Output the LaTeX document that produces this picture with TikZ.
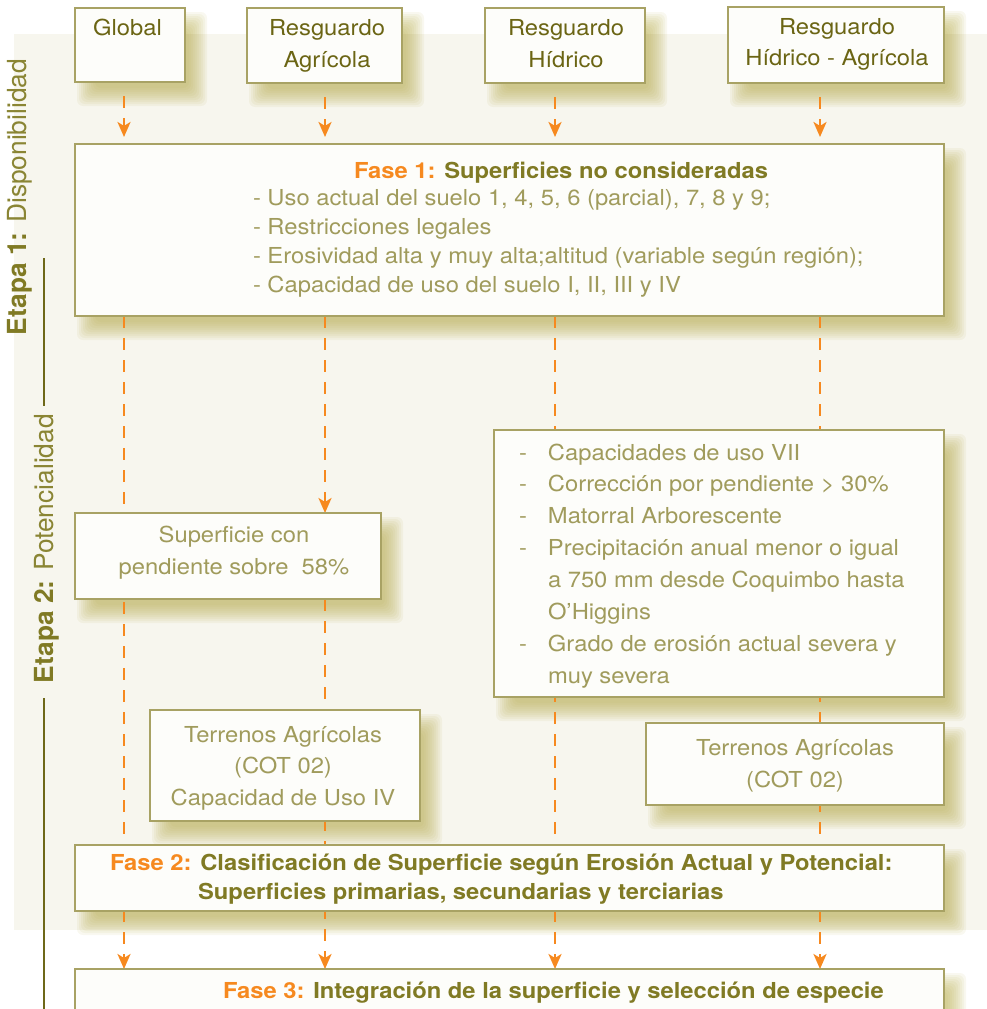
\documentclass[tikz,border=0pt]{standalone}
\usepackage{fontspec}
\setmainfont{TeX Gyre Heros}[FakeStretch=1.08]
\newfontfamily\etapafont{TeX Gyre Heros}
\usetikzlibrary{arrows.meta}

\definecolor{panelbg}{RGB}{247,246,238}
\definecolor{boxfill}{RGB}{253,253,250}
\definecolor{boxline}{RGB}{168,162,100}
\definecolor{shadecol}{RGB}{184,174,78}
\definecolor{headtxt}{RGB}{107,101,20}
\definecolor{phasetxt}{RGB}{128,122,36}
\definecolor{bodytxt}{RGB}{160,155,92}
\definecolor{accent}{RGB}{246,137,31}
\definecolor{stagetxt}{RGB}{138,133,52}
\definecolor{stagerulecol}{RGB}{110,104,25}

% multi-line text whose baseline is the first line
\newcommand\stack[2]{\begin{tabular}[t]{@{}#1@{}}#2\end{tabular}}

% soft drop shade under a box: nested translucent rectangles
\newcommand\castshade[1]{%
  \foreach \k in {0,...,9}{%
    \pgfmathsetmacro\e{10-2*\k}%
    \fill[shadecol, opacity=0.085, rounded corners=6pt]
      ([xshift={(12-(\e))*1pt}, yshift={(-14-(\e))*1pt}]#1.south west) rectangle
      ([xshift={(12+(\e))*1pt}, yshift={(-14+(\e))*1pt}]#1.north east);
  }}

\pgfdeclarelayer{panel}
\pgfdeclarelayer{shade}
\pgfdeclarelayer{conn}
\pgfsetlayers{panel,shade,conn,main}

\begin{document}
\begin{tikzpicture}[x=1pt, y=-1pt,
  box/.style={draw=boxline, line width=1.3pt, fill=boxfill, inner sep=0pt, outer sep=0pt, rectangle},
  txt/.style={inner sep=0pt, outer sep=0pt, font=\fontsize{22}{32}\selectfont},
  headtext/.style={txt, text=headtxt, anchor=base},
  bodytext/.style={txt, text=bodytxt, anchor=base},
  phasetext/.style={txt, text=phasetxt, anchor=base west, font=\bfseries\fontsize{22}{29}\selectfont},
  stagelabel/.style={inner sep=0pt, outer sep=0pt, rotate=90, anchor=base west, text=stagetxt, font=\etapafont\fontsize{26.3}{30}\selectfont},
  stagerule/.style={draw=stagerulecol, line width=1.4pt},
  flow/.style={draw=accent, line width=2.6pt, dash pattern=on 12pt off 10pt,
               -{Stealth[length=15pt, width=13pt, inset=4pt]}},
]
\useasboundingbox (0,0) rectangle (987,1009);

\begin{pgfonlayer}{panel}
  \fill[panelbg] (14,34) rectangle (987,930);
\end{pgfonlayer}

% lanes of the four scenarios
\coordinate (lane1) at (124,0);
\coordinate (lane2) at (325,0);
\coordinate (lane3) at (555,0);
\coordinate (lane4) at (820,0);

% scenario boxes
\node[box, minimum width=110pt, minimum height=74pt] (gl)  at (130,45)   {};
\node[box, minimum width=155pt, minimum height=75pt] (ra)  at (324.5,45.5) {};
\node[box, minimum width=160pt, minimum height=75pt] (rh)  at (565,45.5) {};
\node[box, minimum width=216pt, minimum height=76pt] (rha) at (836,45)   {};

\node[headtext] (gl-t)  at (127.5,35) {Global};
\node[headtext] (ra-t)  at (327,35)   {\stack{c}{Resguardo\\Agrícola}};
\node[headtext] (rh-t)  at (566,35)   {\stack{c}{Resguardo\\Hídrico}};
\node[headtext] (rha-t) at (837,34)   {\stack{c}{Resguardo\\Hídrico - Agrícola}};

% phase 1
\node[box, minimum width=869pt, minimum height=172pt] (f1) at (509.5,230) {};
\node[txt, anchor=base, font=\bfseries\fontsize{22}{29}\selectfont] (f1-t) at (561,178)
  {\textcolor{accent}{Fase 1:} \textcolor{phasetxt}{Superficies no consideradas}};
\node[txt, anchor=base west, text=bodytxt, font=\fontsize{22}{29}\selectfont] (f1-items) at (253,205)
  {\stack{l}{- Uso actual del suelo 1, 4, 5, 6 (parcial), 7, 8 y 9;\\
             - Restricciones legales\\
             - Erosividad alta y muy alta;altitud (variable según región);\\
             - Capacidad de uso del suelo I, II, III y IV}};

% stage 2 boxes
\node[box, minimum width=306pt, minimum height=86pt] (sup) at (228,556) {};
\node[bodytext] (sup-t) at (234,542) {\stack{c}{Superficie con\\pendiente sobre\ \ 58\%}};

\node[box, minimum width=450pt, minimum height=267pt] (lst) at (719,563.5) {};
\node[txt, anchor=base west, text=bodytxt, font=\fontsize{22}{31.9}\selectfont] (lst-t) at (519,460)
  {\stack{l@{}l}{\makebox[29pt][l]{-} & Capacidades de uso VII\\
                 \makebox[29pt][l]{-} & Corrección por pendiente > 30\%\\
                 \makebox[29pt][l]{-} & Matorral Arborescente\\
                 \makebox[29pt][l]{-} & Precipitación anual menor o igual\\
                                      & a 750 mm desde Coquimbo hasta\\
                                      & O’Higgins\\
                 \makebox[29pt][l]{-} & Grado de erosión actual severa y\\
                                      & muy severa}};

\node[box, minimum width=270pt, minimum height=111pt] (ta1) at (285,765.5) {};
\node[bodytext, font=\fontsize{22}{31.5}\selectfont] (ta1-t) at (283,742)
  {\stack{c}{Terrenos Agrícolas\\(COT 02)\\Capacidad de Uso IV}};

\node[box, minimum width=298pt, minimum height=82pt] (ta2) at (795,764) {};
\node[bodytext] (ta2-t) at (795,755) {\stack{c}{Terrenos Agrícolas\\(COT 02)}};

% phase 2 and phase 3
\node[box, minimum width=869pt, minimum height=66pt] (f2) at (509.5,878) {};
\node[phasetext] (f2-t) at (110,870)
  {\stack{l}{\textcolor{accent}{Fase 2:} Clasificación de Superficie según Erosión Actual y Potencial:\\
             \phantom{Fase 2:\ }Superficies primarias, secundarias y terciarias}};

\node[box, minimum width=869pt, minimum height=72pt] (f3) at (509.5,1005) {};
\node[phasetext] (f3-t) at (223,998)
  {\textcolor{accent}{Fase 3:} Integración de la superficie y selección de especie};

% stage labels and rules
\node[stagelabel] (et1) at (27,335) {\textbf{\textcolor{phasetxt}{Etapa 1:}} Disponibilidad};
\node[stagelabel] (et2) at (53,683) {\textbf{\textcolor{phasetxt}{Etapa 2:}} Potencialidad};
\draw[stagerule] (44,258) -- (44,406);
\draw[stagerule] (44,698) -- (44,1012);

% shades under the boxes
\begin{pgfonlayer}{shade}
  \foreach \b in {gl,ra,rh,rha,f1,sup,lst,ta1,ta2,f2,f3}{\castshade{\b}}
\end{pgfonlayer}

% dashed flow lines
\begin{pgfonlayer}{conn}
  \draw[flow, shorten <=14pt, shorten >=7pt] (gl.south -| lane1)  -- (f1.north -| lane1);
  \draw[flow, shorten <=14pt, shorten >=7pt] (ra.south -| lane2)  -- (f1.north -| lane2);
  \draw[flow, shorten <=14pt, shorten >=7pt] (rh.south -| lane3)  -- (f1.north -| lane3);
  \draw[flow, shorten <=14pt, shorten >=7pt] (rha.south -| lane4) -- (f1.north -| lane4);

  \draw[flow] (f1.south -| lane1)  -- (f3.north -| lane1);
  \draw[flow] (f1.south -| lane2)  -- (sup.north -| lane2);
  \draw[flow] (sup.south -| lane2) -- (f3.north -| lane2);
  \draw[flow] (f1.south -| lane3)  -- (f3.north -| lane3);
  \draw[flow] (f1.south -| lane4)  -- (f3.north -| lane4);
\end{pgfonlayer}
\end{tikzpicture}
\end{document}
